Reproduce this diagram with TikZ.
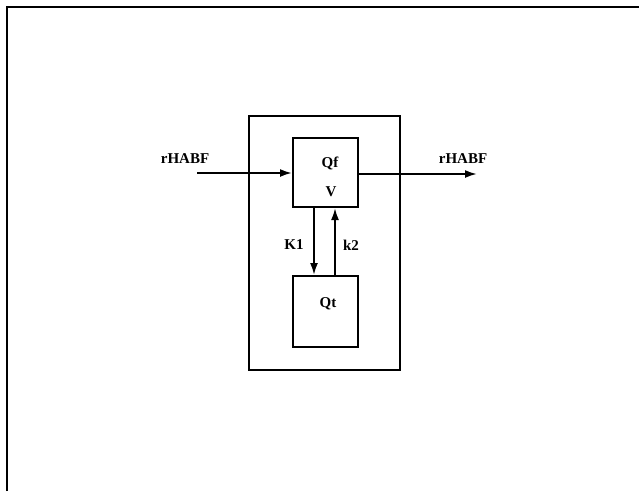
\documentclass[tikz,border=0pt]{standalone}
\usepackage{fontspec}
\setmainfont{Liberation Serif}
\usetikzlibrary{arrows.meta,calc}

\begin{document}
\begin{tikzpicture}[
  x=1pt,y=-1pt,
  box/.style={draw=black,line width=2pt,minimum width=65pt,minimum height=69pt,inner sep=0pt},
  lbl/.style={font=\fontsize{15}{17}\selectfont\bfseries,inner sep=0pt},
  arrow/.style={-{Latex[length=12pt,width=8pt]},draw=black,line width=2pt}
]
  \useasboundingbox (0,0) rectangle (639,491);
  % scan frame
  \draw[line width=1.6pt] (7,491) -- (7,7) -- (639,7);

  % compartments
  \node[box,minimum width=151pt,minimum height=254pt] (organ) at (324.5,243) {};
  \node[box] (qf) at (325.5,172.5) {};
  \node[box,minimum height=71pt] (qt) at (325.5,311.5) {};

  \node[lbl] (qflabel) at (330,163) {Qf};
  \node[lbl] (vlabel) at (331,192) {V};
  \node[lbl] (qtlabel) at (328,304) {Qt};

  % flows
  \coordinate (inflow) at (197,173);
  \coordinate (outflow) at (477,174);
  \coordinate (kdown) at (314,0);
  \coordinate (kup) at (335,0);

  \draw[arrow] (inflow) -- (inflow -| qf.west);
  \draw[arrow] (outflow -| qf.east) -- (outflow);
  \draw[arrow] (qf.south -| kdown) -- (qt.north -| kdown);
  \draw[arrow] (qt.north -| kup) -- (qf.south -| kup);

  \node[lbl] (inlabel) at (185,159) {rHABF};
  \node[lbl] (outlabel) at (463,159) {rHABF};
  \node[lbl] (k1label) at (294,245) {K1};
  \node[lbl] (k2label) at (351,245) {k2};
\end{tikzpicture}
\end{document}
